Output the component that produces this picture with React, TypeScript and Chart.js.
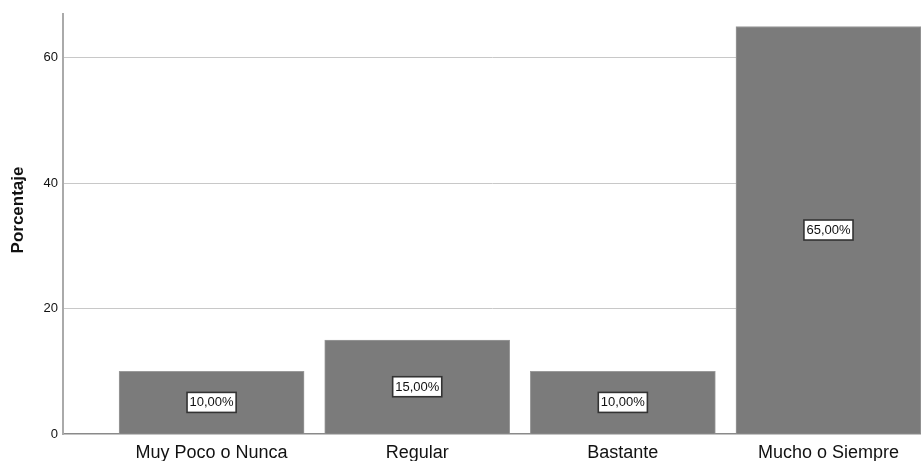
import React, { useEffect, useRef } from "react";
import { Chart, registerables } from "chart.js";

Chart.register(...registerables);

const categories = ["Muy Poco o Nunca", "Regular", "Bastante", "Mucho o Siempre"];
const percentages = [10, 15, 10, 65];
const yTicks = [0, 20, 40, 60];
const valueLabels = ["10,00%", "15,00%", "10,00%", "65,00%"];
const yTitle = "Porcentaje";

const FONT = "'Liberation Sans', Arial, sans-serif";

const labelPlugin = {
  id: "labelPlugin",
  afterDatasetsDraw(chart: any) {
    const ctx = chart.ctx;
    const meta = chart.getDatasetMeta(0);
    ctx.save();
    ctx.font = `13px ${FONT}`;
    ctx.textAlign = "center";
    ctx.textBaseline = "middle";
    meta.data.forEach((bar: any, i: number) => {
      const text = valueLabels[i];
      const cx = bar.x;
      const cy = (bar.y + bar.base) / 2;
      const w = ctx.measureText(text).width + 5;
      const h = 20;
      ctx.fillStyle = "#ffffff";
      ctx.fillRect(cx - w / 2, cy - h / 2, w, h);
      ctx.strokeStyle = "#333333";
      ctx.lineWidth = 1.6;
      ctx.strokeRect(cx - w / 2, cy - h / 2, w, h);
      ctx.fillStyle = "#111111";
      ctx.fillText(text, cx, cy + 0.5);
    });
    // y title
    ctx.translate(18, 210);
    ctx.rotate(-Math.PI / 2);
    ctx.font = `bold 17px ${FONT}`;
    ctx.fillStyle = "#111111";
    ctx.fillText(yTitle, 0, 0);
    ctx.restore();
  },
};

export default function App() {
  const ref = useRef<HTMLCanvasElement | null>(null);
  useEffect(() => {
    if (!ref.current) return;
    const chart = new Chart(ref.current, {
      type: "bar",
      data: {
        datasets: [
          {
            data: percentages.map((v, i) => ({ x: i, y: v })),
            backgroundColor: "#7b7b7b",
            borderColor: "#9a9a9a",
            borderWidth: 1,
            barThickness: 185,
          },
        ],
      },
      options: {
        animation: false,
        responsive: false,
        layout: { padding: { top: 14, left: 0, right: 0, bottom: 0 } },
        plugins: { legend: { display: false }, tooltip: { enabled: false } },
        scales: {
          x: {
            type: "linear",
            offset: false,
            min: -0.7226,
            max: 3.45,
            afterBuildTicks: (scale: any) => {
              scale.ticks = categories.map((_, i) => ({ value: i }));
            },
            afterFit: (scale: any) => {
              scale.height = 27;
            },
            ticks: {
              autoSkip: false,
              maxRotation: 0,
              padding: 8,
              color: "#111111",
              font: { family: FONT, size: 18 },
              callback: (v: any) => categories[v as number] ?? "",
            },
            grid: { display: false, drawTicks: false },
            border: { display: true, color: "#8a8a8a", width: 1.5 },
          },
          y: {
            min: 0,
            max: 67,
            afterBuildTicks: (scale: any) => {
              scale.ticks = yTicks.map((v) => ({ value: v }));
            },
            afterFit: (scale: any) => {
              scale.width = 63;
            },
            ticks: {
              padding: 5,
              color: "#111111",
              font: { family: FONT, size: 13 },
            },
            grid: {
              drawTicks: false,
              color: (c: any) => (c.tick && c.tick.value === 0 ? "rgba(0,0,0,0)" : "#c8c8c8"),
              lineWidth: 1,
            },
            border: { display: true, color: "#aaaaaa", width: 2 },
          },
        },
      },
      plugins: [labelPlugin],
    });
    return () => chart.destroy();
  }, []);
  return (
    <div style={{ position: "fixed", left: 0, top: 0, width: 921, height: 461, background: "#fff" }}>
      <canvas ref={ref} width={921} height={461} style={{ display: "block" }} />
    </div>
  );
}
